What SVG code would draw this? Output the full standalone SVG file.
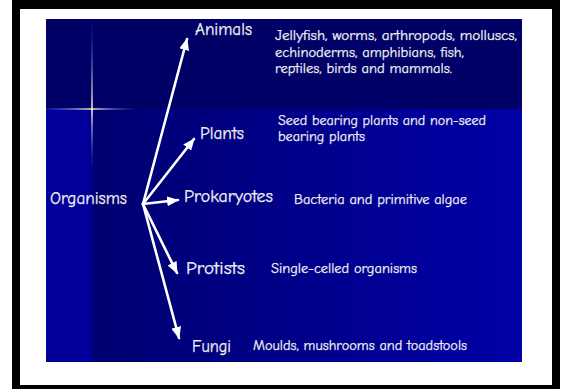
<svg xmlns="http://www.w3.org/2000/svg" width="565" height="389" viewBox="0 0 565 389">
<defs>
<style>
.t{font-family:"Comic Sans MS","Comic Neue","DejaVu Sans",sans-serif;fill:#f2f2f2;stroke:#f2f2f2;stroke-width:0.25}
.h{font-size:17px}
.d{font-size:14px}
.c{stroke:#ffffff;stroke-width:2.6;fill:none;stroke-linecap:round}
</style>
<marker id="ah" markerUnits="userSpaceOnUse" markerWidth="12" markerHeight="10" viewBox="0 0 12 10" refX="11" refY="5" orient="auto">
<path d="M0,0 L12,5 L0,10 Z" fill="#ffffff"/>
</marker>
<linearGradient id="low" x1="92" y1="0" x2="522" y2="0" gradientUnits="userSpaceOnUse">
<stop offset="0" stop-color="#000070"/>
<stop offset="0.25" stop-color="#00007e"/>
<stop offset="1" stop-color="#0000a6"/>
</linearGradient>
<linearGradient id="vl" x1="0" y1="19" x2="0" y2="170" gradientUnits="userSpaceOnUse">
<stop offset="0" stop-color="#3050ff" stop-opacity="0"/>
<stop offset="0.6" stop-color="#fff2c0" stop-opacity="1"/>
<stop offset="1" stop-color="#3050ff" stop-opacity="0"/>
</linearGradient>
<linearGradient id="hl" x1="46" y1="0" x2="140" y2="0" gradientUnits="userSpaceOnUse">
<stop offset="0" stop-color="#3050ff" stop-opacity="0.3"/>
<stop offset="0.49" stop-color="#fff2c0" stop-opacity="1"/>
<stop offset="1" stop-color="#3050ff" stop-opacity="0"/>
</linearGradient>
</defs>
<rect x="0" y="0" width="565" height="389" fill="#ffffff"/>
<rect x="12" y="0" width="548" height="389" fill="#000000"/>
<rect x="20" y="9" width="532" height="376" fill="#ffffff"/>
<g id="slide">
<rect x="46" y="109" width="476" height="253" fill="url(#low)"/>
<rect x="46" y="109" width="46" height="253" fill="#000099"/>
<rect x="46" y="19" width="476" height="90" fill="#000066"/>
<line x1="92" y1="19" x2="92" y2="170" stroke="url(#vl)" stroke-width="1.6"/>
<line x1="46" y1="109" x2="140" y2="109" stroke="url(#hl)" stroke-width="1.6"/>
</g>
<g id="connectors">
<line class="c" x1="143" y1="204" x2="187" y2="39" marker-end="url(#ah)"/>
<line class="c" x1="143" y1="204" x2="194" y2="139" marker-end="url(#ah)"/>
<line class="c" x1="143" y1="204" x2="178" y2="200" marker-end="url(#ah)"/>
<line class="c" x1="143" y1="204" x2="177" y2="273" marker-end="url(#ah)"/>
<line class="c" x1="143" y1="204" x2="179" y2="338" marker-end="url(#ah)"/>
</g>
<g id="organisms"><text class="t h" x="50" y="204" textLength="77" lengthAdjust="spacingAndGlyphs">Organisms</text></g>
<g id="animals">
<text class="t h" x="195" y="35" textLength="57" lengthAdjust="spacingAndGlyphs">Animals</text>
<text class="t d" x="275" y="40" textLength="242" lengthAdjust="spacingAndGlyphs">Jellyfish, worms, arthropods, molluscs,</text>
<text class="t d" x="275" y="57" textLength="189" lengthAdjust="spacingAndGlyphs">echinoderms, amphibians, fish,</text>
<text class="t d" x="275" y="73" textLength="177" lengthAdjust="spacingAndGlyphs">reptiles, birds and mammals.</text>
</g>
<g id="plants">
<text class="t h" x="200" y="139" textLength="44" lengthAdjust="spacingAndGlyphs">Plants</text>
<text class="t d" x="278" y="125" textLength="208" lengthAdjust="spacingAndGlyphs">Seed bearing plants and non-seed</text>
<text class="t d" x="278" y="141" textLength="87" lengthAdjust="spacingAndGlyphs">bearing plants</text>
</g>
<g id="prokaryotes">
<text class="t h" x="184" y="202" textLength="89" lengthAdjust="spacingAndGlyphs">Prokaryotes</text>
<text class="t d" x="294" y="204" textLength="173" lengthAdjust="spacingAndGlyphs">Bacteria and primitive algae</text>
</g>
<g id="protists">
<text class="t h" x="186" y="274" textLength="59" lengthAdjust="spacingAndGlyphs">Protists</text>
<text class="t d" x="271" y="273" textLength="146" lengthAdjust="spacingAndGlyphs">Single-celled organisms</text>
</g>
<g id="fungi">
<text class="t h" x="192" y="352" textLength="39" lengthAdjust="spacingAndGlyphs">Fungi</text>
<text class="t d" x="253" y="350" textLength="214" lengthAdjust="spacingAndGlyphs">Moulds, mushrooms and toadstools</text>
</g>
</svg>
